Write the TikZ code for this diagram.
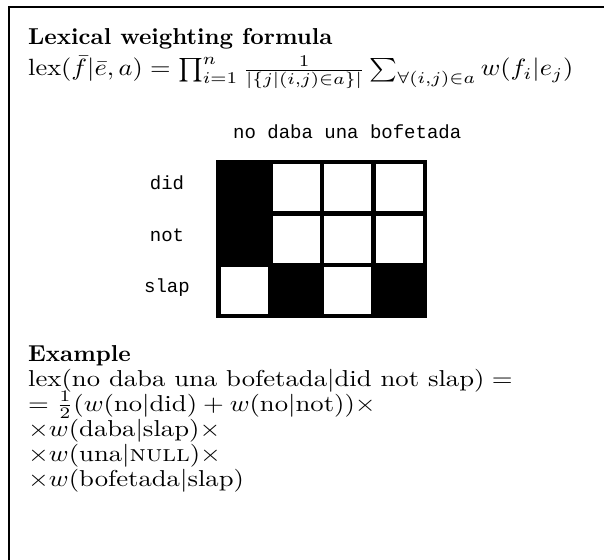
\documentclass[tikz,border=0pt]{standalone}
\usepackage{fontspec}
\setmonofont{Liberation Mono}
\begin{document}
\begin{tikzpicture}[x=1pt,y=-1pt,
  txt/.style={anchor=base west,inner sep=0pt},
  mono/.style={inner sep=0pt,font=\fontsize{19}{22}\selectfont\ttfamily},
  cell/.style={fill=white,draw=none,minimum size=47pt,inner sep=0pt},
  frameline/.style={line width=2.4pt}]
\useasboundingbox (0,0) rectangle (604,559);
\fill[white] (0,0) rectangle (604,559);
% frame
\draw[frameline] (9,560) -- (9,7) -- (605,7);
% title and formula
\node[txt] (title) at (28,45) {\scalebox{2.35}[2.3]{\textbf{Lexical weighting formula}}};
\node[txt] (formula) at (28,76) {\scalebox{2.64}[2.35]{$\mathrm{lex}(\bar{f}|\bar{e},a)=\prod_{i=1}^{n}\frac{1}{|\{j|(i,j)\in a\}|}\sum_{\forall(i,j)\in a}w(f_i|e_j)$}};
% column labels
\node[mono,anchor=base west] (cols) at (233,138) {no daba una bofetada};
% grid
\node[fill=black,draw=none,minimum width=211pt,minimum height=158pt,inner sep=0pt] (grid) at (321.5,239) {};
\node[cell] (c12) at (296.2,187.5) {};
\node[cell] (c13) at (347.9,187.5) {};
\node[cell] (c14) at (399.6,187.5) {};
\node[cell] (c22) at (296.2,239) {};
\node[cell] (c23) at (347.9,239) {};
\node[cell] (c24) at (399.6,239) {};
\node[cell] (c31) at (244.5,290.5) {};
\node[cell] (c33) at (347.9,290.5) {};
% row labels
\node[mono,anchor=base] (did) at (167,189) {did};
\node[mono,anchor=base] (not) at (167,241) {not};
\node[mono,anchor=base] (slap) at (167,292) {slap};
% example
\node[txt] (ex) at (28,361) {\scalebox{2.35}[2.3]{\textbf{Example}}};
\node[txt] (l1) at (28,386) {\scalebox{2.67}[2.3]{$\mathrm{lex}(\mbox{no daba una bofetada}|\mbox{did not slap})=$}};
\node[txt] (l2) at (28,411) {\scalebox{2.67}[2.3]{$=\frac{1}{2}(w(\mbox{no}|\mbox{did})+w(\mbox{no}|\mbox{not}))\times$}};
\node[txt] (l3) at (28,436) {\scalebox{2.67}[2.3]{$\times w(\mbox{daba}|\mbox{slap})\times$}};
\node[txt] (l4) at (28,461) {\scalebox{2.67}[2.3]{$\times w(\mbox{una}|\mbox{\textsc{null}})\times$}};
\node[txt] (l5) at (28,486) {\scalebox{2.67}[2.3]{$\times w(\mbox{bofetada}|\mbox{slap})$}};
\end{tikzpicture}
\end{document}
